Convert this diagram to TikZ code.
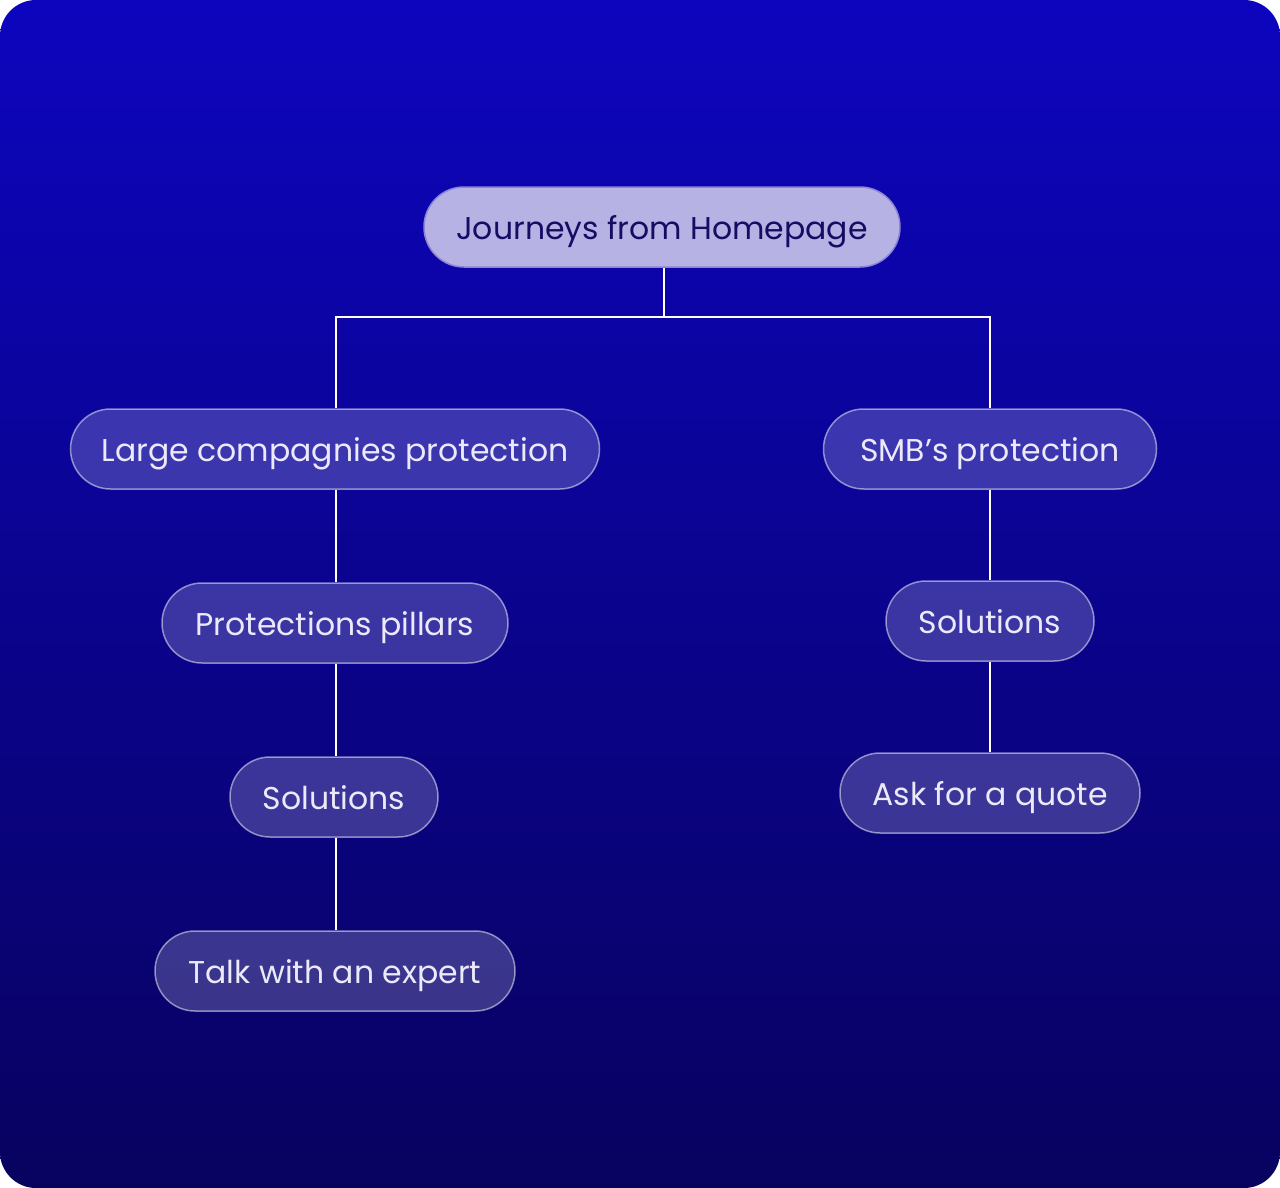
\documentclass[tikz,border=0pt]{standalone}
\usepackage{fontspec}
\setmainfont{Poppins}
\usepackage{xcolor}
\definecolor{bgtop}{RGB}{13,5,190}
\definecolor{bgbottom}{RGB}{8,2,95}
\definecolor{lavender}{RGB}{183,178,228}
\definecolor{lavenderline}{RGB}{140,132,212}
\definecolor{navytext}{RGB}{22,12,100}
\definecolor{pilltext}{RGB}{236,233,250}
\tikzset{%
    pill/.style={%
        draw=white, draw opacity=0.5, line width=1.5pt,
        fill=white, fill opacity=0.2, text opacity=1,
        text=pilltext, rounded corners=40pt,
        minimum height=80pt, inner xsep=0pt,
        font=\fontsize{31.5}{36}\selectfont,
        text height=25pt, text depth=0pt
    },
    rootpill/.style={%
        pill, fill=lavender, fill opacity=1,
        draw=lavenderline, draw opacity=1, text=navytext
    },
    link/.style={white, line width=1.5pt}
}
\begin{document}
\begin{tikzpicture}[x=1pt,y=-1pt]
    \useasboundingbox (0,0) rectangle (1280,1188);
    \shade[top color=bgtop, bottom color=bgbottom, rounded corners=36pt] (0,0) rectangle (1280,1188);
%    root and the two branches
    \node[rootpill, minimum width=476pt] (home) at (662,227) {Journeys from Homepage};
    \node[pill, minimum width=529pt] (large) at (335,449) {Large compagnies protection};
    \node[pill, minimum width=333pt] (smb) at (990,449) {SMB’s protection};
%    left branch
    \node[pill, minimum width=346pt] (pillars) at (335,623) {Protections pillars};
    \node[pill, minimum width=208pt] (solleft) at (334,797) {Solutions};
    \node[pill, minimum width=360pt] (expert) at (335,971) {Talk with an expert};
%    right branch
    \node[pill, minimum width=208pt] (solright) at (990,621) {Solutions};
    \node[pill, minimum width=300pt] (quote) at (990,793) {Ask for a quote};
    \coordinate (split) at (664,317);
    \coordinate (leftline) at (336,0);
    \draw[link] (home.south -| split) -- (split);
    \draw[link] (split) -| (large.north -| leftline);
    \draw[link] (split) -| (smb.north);
    \draw[link] (large.south -| leftline) -- (pillars.north -| leftline);
    \draw[link] (pillars.south -| leftline) -- (solleft.north -| leftline);
    \draw[link] (solleft.south -| leftline) -- (expert.north -| leftline);
    \draw[link] (smb) -- (solright);
    \draw[link] (solright) -- (quote);
\end{tikzpicture}
\end{document}
